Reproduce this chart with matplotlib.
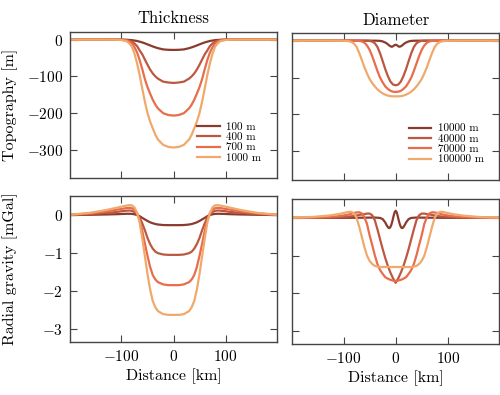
import numpy as np
import matplotlib
matplotlib.use("Agg")
import matplotlib.pyplot as plt

plt.rcParams["font.family"] = "serif"
plt.rcParams["font.serif"] = ["cmr10", "DejaVu Serif"]
plt.rcParams["mathtext.fontset"] = "cm"
plt.rcParams["axes.formatter.use_mathtext"] = True
plt.rcParams["axes.unicode_minus"] = True

# distance grids (km)
x_thick = [-200, -160, -130, -110, -100, -90, -85, -80, -75, -70, -65, -60, -55, -50, -45, -40, -35, -30, -20, -10, 0,
           10, 20, 30, 35, 40, 45, 50, 55, 60, 65, 70, 75, 80, 85, 90, 100, 110, 130, 160, 200]
x_diam = [-200, -160, -130, -110, -100, -90, -85, -80, -75, -70, -65, -60, -55, -50, -45, -40, -35, -30, -25, -20,
          -15, -10, -5, 0, 5, 10, 15, 20, 25, 30, 35, 40, 45, 50, 55, 60, 65, 70, 75, 80, 85, 90, 100, 110, 130,
          160, 200]
x_small = [-200, -100, -60, -40, -30, -25, -20, -17, -14, -12, -10, -8, -6, -4, -2, 0,
           2, 4, 6, 8, 10, 12, 14, 17, 20, 25, 30, 40, 60, 100, 200]

thick_labels = ["100 m", "400 m", "700 m", "1000 m"]
diam_labels = ["10000 m", "40000 m", "70000 m", "100000 m"]
colors = ["#8a3b2c", "#bd5840", "#e86d4b", "#f0a96b"]

# topography [m], thickness series
topo_100 = [0, 0, 0, 0, 0, -0.4, -0.8, -1.4, -2.5, -3.6, -5.6, -7.6, -10.1, -12.9, -15.7, -18.5, -21, -23.2, -26.6,
            -27.7, -28, -27.7, -26.6, -23.2, -21, -18.5, -15.7, -12.9, -10.1, -7.6, -5.6, -3.6, -2.5, -1.4, -0.8,
            -0.4, 0, 0, 0, 0, 0]
topo_400 = [0, 0, 0, 0, 0, -1.2, -3, -5.3, -10.6, -17.7, -29.5, -40.1, -54.3, -68.4, -81.4, -92, -100, -106.2,
            -114.5, -116.8, -118, -116.8, -114.5, -106.2, -100, -92, -81.4, -68.4, -54.3, -40.1, -29.5, -17.7,
            -10.6, -5.3, -3, -1.2, 0, 0, 0, 0, 0]
topo_700 = [0, 0, 0, 0, -0.4, -2.5, -5.2, -10.4, -20.7, -35.2, -55.9, -80.7, -107.6, -129.4, -147, -163.5, -177,
            -187.3, -200.4, -205.5, -207, -205.5, -200.4, -187.3, -177, -163.5, -147, -129.4, -107.6, -80.7,
            -55.9, -35.2, -20.7, -10.4, -5.2, -2.5, -0.4, 0, 0, 0, 0]
topo_1000 = [0, 0, 0, -0.3, -0.9, -4.4, -10.3, -19.1, -38.2, -64.7, -97, -133.8, -169, -200, -223.4, -241, -259,
             -272, -286.7, -292.5, -294, -292.5, -286.7, -272, -259, -241, -223.4, -200, -169, -133.8, -97, -64.7,
             -38.2, -19.1, -10.3, -4.4, -0.9, -0.3, 0, 0, 0]

# radial gravity [mGal], thickness series
grav_100 = [0, 0.007, 0.015, 0.022, 0.028, 0.033, 0.034, 0.03, 0.02, 0.0, -0.03, -0.075, -0.115, -0.155, -0.19,
            -0.215, -0.235, -0.248, -0.262, -0.265, -0.265, -0.265, -0.262, -0.248, -0.235, -0.215, -0.19, -0.155,
            -0.115, -0.075, -0.03, 0.0, 0.02, 0.03, 0.034, 0.033, 0.028, 0.022, 0.015, 0.007, 0]
grav_400 = [0.002, 0.025, 0.055, 0.08, 0.1, 0.115, 0.12, 0.11, 0.08, 0.03, -0.07, -0.22, -0.4, -0.6, -0.76,
            -0.88, -0.96, -1.0, -1.035, -1.045, -1.045, -1.045, -1.035, -1.0, -0.96, -0.88, -0.76, -0.6, -0.4,
            -0.22, -0.07, 0.03, 0.08, 0.11, 0.12, 0.115, 0.1, 0.08, 0.055, 0.025, 0.002]
grav_700 = [0.004, 0.045, 0.095, 0.14, 0.16, 0.185, 0.19, 0.18, 0.14, 0.04, -0.14, -0.42, -0.75, -1.07, -1.36,
            -1.57, -1.69, -1.76, -1.82, -1.84, -1.84, -1.84, -1.82, -1.76, -1.69, -1.57, -1.36, -1.07, -0.75,
            -0.42, -0.14, 0.04, 0.14, 0.18, 0.19, 0.185, 0.16, 0.14, 0.095, 0.045, 0.004]
grav_1000 = [0.005, 0.06, 0.13, 0.19, 0.22, 0.25, 0.26, 0.255, 0.2, 0.06, -0.2, -0.62, -1.08, -1.55, -1.95,
             -2.25, -2.42, -2.52, -2.6, -2.62, -2.62, -2.62, -2.6, -2.52, -2.42, -2.25, -1.95, -1.55, -1.08, -0.62,
             -0.2, 0.06, 0.2, 0.255, 0.26, 0.25, 0.22, 0.19, 0.13, 0.06, 0.005]

# topography [m], diameter series
topo_10000 = [0, 0, 0, 0, -0.5, -2, -5, -7.5, -11, -13.5, -15, -16.5, -16, -14, -12, -11,
              -12, -14, -16, -16.5, -15, -13.5, -11, -7.5, -5, -2, -0.5, 0, 0, 0, 0]
topo_40000 = [0, 0, 0, 0, 0, 0, 0, 0, 0, 0, 0, 0, -0.1, -0.5, -2.5, -7, -17, -34, -55, -77, -96, -111, -119,
              -121, -119, -111, -96, -77, -55, -34, -17, -7, -2.5, -0.5, -0.1, 0, 0, 0, 0, 0, 0, 0, 0, 0, 0, 0, 0]
topo_70000 = [0, 0, 0, 0, 0, 0, 0, 0, -0.2, -0.5, -2, -5.5, -13, -25, -42, -62, -82, -100, -113, -124, -131,
              -136, -138.5, -139, -138.5, -136, -131, -124, -113, -100, -82, -62, -42, -25, -13, -5.5, -2, -0.5,
              -0.2, 0, 0, 0, 0, 0, 0, 0, 0]
topo_100000 = [0, 0, 0, -0.1, -0.3, -1.5, -3.5, -8, -17, -33, -52, -72, -89, -104, -115, -124, -132, -138, -143,
               -146.5, -149, -150.5, -151, -151, -151, -150.5, -149, -146.5, -143, -138, -132, -124, -115, -104,
               -89, -72, -52, -33, -17, -8, -3.5, -1.5, -0.3, -0.1, 0, 0, 0]

# radial gravity [mGal], diameter series
grav_10000 = [0, 0.002, 0.006, 0.01, 0.0, -0.03, -0.12, -0.2, -0.26, -0.27, -0.24, -0.17, -0.07, 0.05, 0.15, 0.19,
              0.15, 0.05, -0.07, -0.17, -0.24, -0.27, -0.26, -0.2, -0.12, -0.03, 0.0, 0.01, 0.006, 0.002, 0]
grav_40000 = [0, 0.004, 0.01, 0.018, 0.025, 0.035, 0.042, 0.05, 0.065, 0.08, 0.09, 0.1, 0.115, 0.115, 0.07, -0.06,
              -0.3, -0.56, -0.82, -1.06, -1.27, -1.45, -1.6, -1.72, -1.6, -1.45, -1.27, -1.06, -0.82, -0.56, -0.3,
              -0.06, 0.07, 0.115, 0.115, 0.1, 0.09, 0.08, 0.065, 0.05, 0.042, 0.035, 0.025, 0.018, 0.01, 0.004, 0]
grav_70000 = [0.002, 0.01, 0.025, 0.045, 0.065, 0.09, 0.11, 0.13, 0.145, 0.15, 0.12, 0.02, -0.16, -0.46, -0.72,
              -0.99, -1.22, -1.38, -1.48, -1.57, -1.61, -1.64, -1.66, -1.67, -1.66, -1.64, -1.61, -1.57, -1.48,
              -1.38, -1.22, -0.99, -0.72, -0.46, -0.16, 0.02, 0.12, 0.15, 0.145, 0.13, 0.11, 0.09, 0.065, 0.045,
              0.025, 0.01, 0.002]
grav_100000 = [0.005, 0.025, 0.06, 0.1, 0.13, 0.16, 0.16, 0.12, 0.0, -0.23, -0.5, -0.77, -1.0, -1.14, -1.22,
               -1.27, -1.29, -1.3, -1.3, -1.3, -1.3, -1.3, -1.3, -1.3, -1.3, -1.3, -1.3, -1.3, -1.3, -1.3, -1.29,
               -1.27, -1.22, -1.14, -1.0, -0.77, -0.5, -0.23, 0.0, 0.12, 0.16, 0.16, 0.13, 0.1, 0.06, 0.025, 0.005]

fig = plt.figure(figsize=(5.0, 3.95), dpi=100)
ax_tt = fig.add_axes([0.140, 0.5486, 0.414, 0.3696])
ax_td = fig.add_axes([0.584, 0.5443, 0.4146, 0.3714])
ax_bt = fig.add_axes([0.140, 0.1334, 0.414, 0.3704])
ax_bd = fig.add_axes([0.584, 0.1291, 0.4146, 0.3670])

for lab, y, c in zip(thick_labels, [topo_100, topo_400, topo_700, topo_1000], colors):
    ax_tt.plot(x_thick, y, color=c, lw=1.6, label=lab)
for y, c in zip([grav_100, grav_400, grav_700, grav_1000], colors):
    ax_bt.plot(x_thick, y, color=c, lw=1.6)

ax_td.plot(x_small, topo_10000, color=colors[0], lw=1.6, label=diam_labels[0])
ax_bd.plot(x_small, grav_10000, color=colors[0], lw=1.6)
for lab, y, g, c in zip(diam_labels[1:], [topo_40000, topo_70000, topo_100000],
                        [grav_40000, grav_70000, grav_100000], colors[1:]):
    ax_td.plot(x_diam, y, color=c, lw=1.6, label=lab)
    ax_bd.plot(x_diam, g, color=c, lw=1.6)

for ax in [ax_tt, ax_td, ax_bt, ax_bd]:
    ax.set_xlim(-199, 199)
    ax.set_xticks([-100, 0, 100])
    ax.tick_params(direction="in", length=5, width=0.8, top=True, right=True,
                   labelsize=11, pad=5, color="#444444")
    for s in ax.spines.values():
        s.set_color("#444444")
        s.set_linewidth(1.0)

for ax in [ax_tt, ax_td]:
    ax.set_ylim(-378, 20)
    ax.set_yticks([0, -100, -200, -300])
    ax.tick_params(labelbottom=False)
    ax.legend(loc="lower right", frameon=False, fontsize=8, labelspacing=0.05,
              handlelength=2.0, handletextpad=0.6, borderaxespad=1.0)
for ax in [ax_bt, ax_bd]:
    ax.set_ylim(-3.34, 0.5)
    ax.set_yticks([0, -1, -2, -3])
    ax.set_xlabel("Distance [km]", fontsize=11.5, labelpad=3)
for ax in [ax_td, ax_bd]:
    ax.tick_params(labelleft=False)

ax_tt.set_title("Thickness", fontsize=12, pad=7)
ax_td.set_title("Diameter", fontsize=12, pad=6)
ax_tt.set_ylabel("Topography [m]", fontsize=11.5)
ax_bt.set_ylabel("Radial gravity [mGal]", fontsize=11.5)
ax_tt.yaxis.set_label_coords(-0.25, 0.5)
ax_bt.yaxis.set_label_coords(-0.25, 0.5)

fig.savefig("out.png", dpi=100)
